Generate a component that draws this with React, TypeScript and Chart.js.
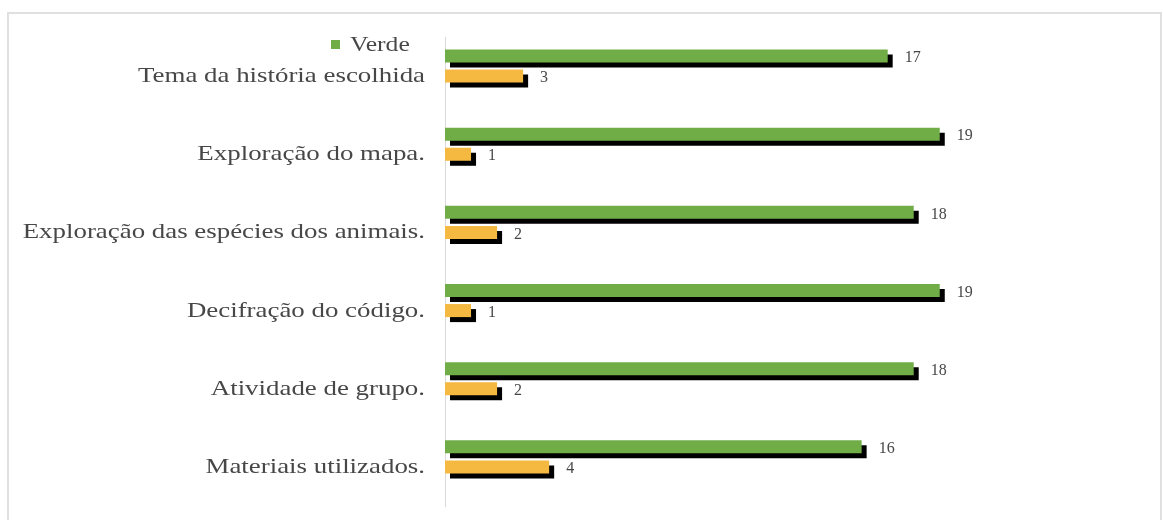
import React, { useEffect, useRef } from "react";
import { Chart, registerables } from "chart.js";

Chart.register(...registerables);

const categories = [
  "Tema da história escolhida",
  "Exploração do mapa.",
  "Exploração das espécies dos animais.",
  "Decifração do código.",
  "Atividade de grupo.",
  "Materiais utilizados.",
];
const verde = [17, 19, 18, 19, 18, 16];
const laranja = [3, 1, 2, 1, 2, 4];
const vazio = [null, null, null, null, null, null];
const legendLabel = "Verde";
const otherLabel = "Laranja";

const GREEN = "#70AD47";
const ORANGE = "#F5B942";
const TEXT = "#474747";
const FONT = "'Liberation Serif', 'Times New Roman', serif";
const STRETCH = 1.28;

const shadowPlugin = {
  id: "barShadow",
  beforeDatasetsDraw(chart: any) {
    const c = chart.ctx;
    c.save();
    c.shadowColor = "#000000";
    c.shadowOffsetX = 5;
    c.shadowOffsetY = 5;
    c.shadowBlur = 0;
  },
  afterDatasetsDraw(chart: any) {
    const c = chart.ctx;
    c.restore();
    c.save();
    c.font = `16px ${FONT}`;
    c.fillStyle = TEXT;
    c.textAlign = "left";
    c.textBaseline = "middle";
    [0, 1].forEach((di) => {
      const meta = chart.getDatasetMeta(di);
      const ds = chart.data.datasets[di];
      meta.data.forEach((el: any, i: number) => {
        const v = ds.data[i];
        if (v == null) return;
        c.fillText(String(v), el.x + 17, el.y + 2);
      });
    });
    c.restore();
  },
};

const labelsPlugin = {
  id: "stretchedLabels",
  afterDraw(chart: any) {
    const c = chart.ctx;
    const y = chart.scales.y;
    c.save();
    c.font = `21px ${FONT}`;
    c.fillStyle = TEXT;
    c.textAlign = "right";
    c.textBaseline = "alphabetic";
    categories.forEach((lab, i) => {
      const py = y.getPixelForValue(i);
      c.save();
      c.translate(425, py + 6);
      c.scale(STRETCH, 1);
      c.fillText(lab, 0, 0);
      c.restore();
    });
    // legend
    c.fillStyle = GREEN;
    c.fillRect(331, 40, 9, 9);
    c.fillStyle = TEXT;
    c.textAlign = "left";
    c.save();
    c.translate(350, 51);
    c.scale(1.22, 1);
    c.fillText(legendLabel, 0, 0);
    c.restore();
    c.restore();
  },
};

export default function App() {
  const ref = useRef<HTMLCanvasElement | null>(null);

  useEffect(() => {
    if (!ref.current) return;
    const common = { categoryPercentage: 0.77, barPercentage: 0.65 };
    const chart = new Chart(ref.current, {
      type: "bar",
      data: {
        labels: categories,
        datasets: [
          { label: legendLabel, data: verde, backgroundColor: GREEN, ...common },
          { label: otherLabel, data: laranja, backgroundColor: ORANGE, ...common },
          { label: "", data: vazio as any, backgroundColor: "rgba(0,0,0,0)", ...common },
        ],
      },
      options: {
        indexAxis: "y",
        responsive: false,
        animation: false,
        layout: { padding: { top: 37, bottom: 14, right: 67, left: 0 } },
        plugins: {
          legend: { display: false },
          tooltip: { enabled: false },
        },
        scales: {
          x: {
            display: false,
            min: 0,
            max: 25,
          },
          y: {
            grid: { display: false, drawTicks: false },
            border: { display: true, color: "#d9d9d9", width: 1 },
            ticks: { display: false },
            afterFit(scale: any) {
              scale.width = 445;
            },
          },
        },
      },
      plugins: [shadowPlugin, labelsPlugin],
    } as any);
    return () => chart.destroy();
  }, []);

  return (
    <div style={{ position: "fixed", left: 0, top: 0, width: 1163, height: 520, background: "#fff" }}>
      <div
        style={{
          position: "absolute",
          left: 7,
          top: 12,
          width: 1155,
          height: 520,
          border: "2px solid #e0e0e0",
          boxSizing: "border-box",
        }}
      />
      <canvas ref={ref} width={1163} height={520} style={{ position: "absolute", left: 0, top: 0 }} />
    </div>
  );
}
